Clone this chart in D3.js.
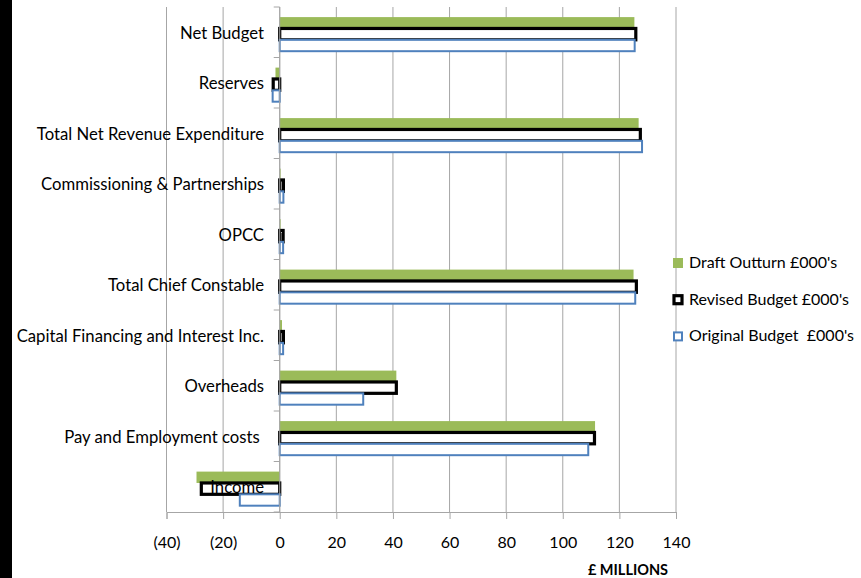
<!DOCTYPE html>
<html>
<head>
<meta charset="utf-8">
<script src="https://cdn.jsdelivr.net/npm/d3@7"></script>
<style>
  html, body { margin: 0; padding: 0; background: #fff; }
  svg { display: block; }
  text { font-family: Lato, "Open Sans", sans-serif; fill: #000; white-space: pre; }
</style>
</head>
<body>
<svg id="chart" width="861" height="578"></svg>
<script>
// Budget lines, top to bottom
const categories = [
  "Net Budget",
  "Reserves",
  "Total Net Revenue Expenditure",
  "Commissioning & Partnerships",
  "OPCC",
  "Total Chief Constable",
  "Capital Financing and Interest Inc.",
  "Overheads",
  "Pay and Employment costs ",
  "Income"
];

// £ millions per line
const draftOutturn   = [125.3, -1.5, 126.8, 0.3, 0.3, 125.0, 0.8, 41.2, 111.4, -29.4];
const revisedBudget  = [125.8, -2.3, 127.4, 1.3, 1.2, 126.0, 1.3, 41.2, 111.2, -27.7];
const originalBudget = [125.4, -2.5, 128.0, 1.3, 1.2, 125.6, 1.2, 29.5, 109.0, -14.1];

const seriesNames = ["Draft Outturn £000's", "Revised Budget £000's", "Original Budget  £000's"];
const xTicks = [-40, -20, 0, 20, 40, 60, 80, 100, 120, 140];

const series = [
  { name: seriesNames[0], values: draftOutturn,   fill: "#9bbb59", stroke: "none",    sw: 0 },
  { name: seriesNames[1], values: revisedBudget,  fill: "#ffffff", stroke: "#000000", sw: 3.2 },
  { name: seriesNames[2], values: originalBudget, fill: "#ffffff", stroke: "#4f81bd", sw: 2 }
];

const svg = d3.select("#chart");

// dark strip along the left edge
svg.append("rect").attr("x", 0).attr("y", 0).attr("width", 12).attr("height", 578).attr("fill", "#000");

const plot = { left: 166.5, right: 676, top: 7, bottom: 512 };

const x = d3.scaleLinear().domain([-40, 140]).range([plot.left, plot.right]);
const y = d3.scaleBand().domain(categories).range([plot.top, plot.bottom]).padding(0);
const inner = d3.scaleBand().domain(seriesNames)
  .range([y.bandwidth() * 0.2, y.bandwidth() * 0.875]).padding(0);

const fmt = v => v < 0 ? "(" + Math.abs(v) + ")" : String(v);

// vertical gridlines
svg.append("g").selectAll("line").data(xTicks).join("line")
  .attr("x1", d => x(d)).attr("x2", d => x(d))
  .attr("y1", plot.top).attr("y2", plot.bottom)
  .attr("stroke", "#a6a6a6").attr("stroke-width", 1);

// value axis along the bottom
const xAxis = svg.append("g")
  .attr("transform", `translate(0,${plot.bottom})`)
  .call(d3.axisBottom(x).tickValues(xTicks).tickFormat(fmt).tickSize(7).tickPadding(18));
xAxis.select(".domain").attr("stroke", "#a6a6a6");
xAxis.selectAll(".tick line").attr("stroke", "#a6a6a6");
xAxis.selectAll(".tick text").attr("font-size", 16).style("font-family", "Lato, sans-serif");

// bars
series.forEach(s => {
  svg.append("g").selectAll("rect").data(categories).join("rect")
    .attr("x", (c, i) => x(Math.min(0, s.values[i])))
    .attr("width", (c, i) => Math.abs(x(s.values[i]) - x(0)))
    .attr("y", c => y(c) + inner(s.name))
    .attr("height", inner.bandwidth())
    .attr("fill", s.fill)
    .attr("stroke", s.stroke)
    .attr("stroke-width", s.sw);
});

// category axis at zero
svg.append("line")
  .attr("x1", x(0)).attr("x2", x(0)).attr("y1", plot.top).attr("y2", plot.bottom)
  .attr("stroke", "#a6a6a6");
const bounds = categories.map(c => y(c)).concat([plot.bottom]);
svg.append("g").selectAll("line").data(bounds).join("line")
  .attr("x1", x(0) - 6).attr("x2", x(0))
  .attr("y1", d => d).attr("y2", d => d)
  .attr("stroke", "#a6a6a6");

// category labels
svg.append("g").selectAll("text").data(categories).join("text")
  .attr("x", 264)
  .attr("y", c => y(c) + y.bandwidth() / 2 + 2.5)
  .attr("text-anchor", "end")
  .attr("dominant-baseline", "middle")
  .attr("font-size", 16.7)
  .text(c => c);

// axis title
svg.append("text")
  .attr("x", 628).attr("y", 575)
  .attr("text-anchor", "middle")
  .attr("font-size", 14.5).attr("font-weight", "bold")
  .text("£ MILLIONS");

// legend
const legend = svg.append("g").attr("transform", "translate(673,263)");
series.forEach((s, i) => {
  const g = legend.append("g").attr("transform", `translate(0,${i * 36.7})`);
  if (s.sw > 0) {
    g.append("rect").attr("x", 1).attr("y", -4).attr("width", 8).attr("height", 8)
      .attr("fill", s.fill).attr("stroke", s.stroke).attr("stroke-width", s.sw);
  } else {
    g.append("rect").attr("x", 0).attr("y", -5).attr("width", 10).attr("height", 10)
      .attr("fill", s.fill);
  }
  g.append("text").attr("x", 16).attr("y", 1)
    .attr("dominant-baseline", "middle").attr("font-size", 16)
    .text(s.name);
});
</script>
</body>
</html>
